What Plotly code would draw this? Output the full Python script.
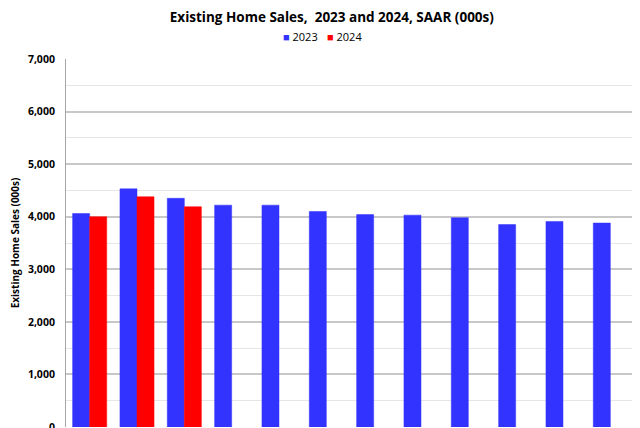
import plotly.graph_objects as go

months = ["Jan", "Feb", "Mar", "Apr", "May", "Jun", "Jul", "Aug", "Sep", "Oct", "Nov", "Dec"]
sales_2023 = [4060, 4530, 4350, 4220, 4220, 4100, 4040, 4030, 3980, 3850, 3910, 3880]
sales_2024 = [4000, 4380, 4190, None, None, None, None, None, None, None, None, None]
series_names = ["2023", "2024"]
series_colors = ["#3333FF", "#FF0000"]

font_family = "Open Sans, Liberation Sans, Arial, sans-serif"

fig = go.Figure()
for name, vals, col in zip(series_names, [sales_2023, sales_2024], series_colors):
    fig.add_trace(go.Bar(name=name, x=months, y=vals, showlegend=False,
                         marker=dict(color=col, line=dict(color=col, width=0.5))))

# legend drawn as compact text entries (square + label)
legend_x = [0.412, 0.491]
for name, col, lx in zip(series_names, series_colors, legend_x):
    fig.add_annotation(text=f"<span style='color:{col}'>■</span> {name}", xref="paper", yref="paper",
                       x=lx, y=1.0625, xanchor="center", yanchor="middle", showarrow=False,
                       font=dict(family=font_family, size=11, color="black"))

fig.update_layout(
    width=640, height=428,
    paper_bgcolor="white", plot_bgcolor="white",
    barmode="group", bargap=0.28, bargroupgap=0,
    margin=dict(l=58, r=14, t=51, b=9, autoexpand=False),
    title=dict(text="<b>Existing Home Sales,  2023 and 2024, SAAR (000s)</b>", x=0.506, xanchor="center",
               yref="container", y=0.979, yanchor="middle",
               font=dict(family=font_family, size=13.5, color="black")),
)
fig.update_xaxes(showticklabels=False, showline=False, showgrid=False, ticks="", automargin=False)
fig.update_yaxes(range=[0, 7000], tickvals=list(range(0, 7001, 1000)), tickformat=",",
                 showline=True, linecolor="#A6A6A6", linewidth=1, automargin=False,
                 gridcolor="#C8C8C8", gridwidth=1.5, ticklabelstandoff=8,
                 minor=dict(dtick=500, showgrid=True, gridcolor="#E6E6E6", gridwidth=1),
                 tickfont=dict(family=font_family, size=10.5, color="black", weight="bold"),
                 title=dict(text="<b>Existing Home Sales (000s)</b>", font=dict(family=font_family, size=10, color="black"), standoff=9),
                 zeroline=False)

fig.write_html("out.html")
